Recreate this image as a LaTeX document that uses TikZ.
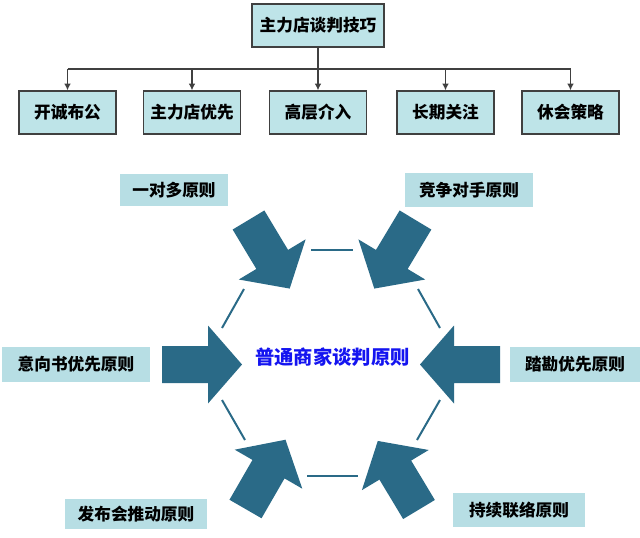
\documentclass[tikz,border=0pt]{standalone}
\usepackage{fontspec}
\setmainfont{Noto Sans CJK SC}
\usetikzlibrary{arrows.meta}
\definecolor{boxfill}{RGB}{190,228,232}
\definecolor{labfill}{RGB}{183,222,228}
\definecolor{arrowfill}{RGB}{42,106,135}
\definecolor{bluetext}{RGB}{20,20,240}
\tikzset{
  topbox/.style={draw=black!75,line width=1pt,fill=boxfill,minimum width=72.75pt,minimum height=32.25pt,inner sep=0pt,font=\bfseries\fontsize{12.5}{14}\selectfont},
  labbox/.style={fill=labfill,inner sep=0pt,font=\bfseries\fontsize{12.5}{14}\selectfont},
  hexline/.style={draw=arrowfill,line width=1.5pt},
  bigarrow/.pic={\fill[arrowfill] (0,-18.5) -- (46,-18.5) -- (46,-39) -- (80,0) -- (46,39) -- (46,18.5) -- (0,18.5) -- cycle;}
}
\begin{document}
\begin{tikzpicture}[x=0.75pt,y=0.75pt,yscale=-1]
\useasboundingbox (0,0) rectangle (640,537);

%Shape: Rectangle [top]
\node[topbox,minimum width=99pt] (top) at (318,25.5) {主力店谈判技巧};
%Shape: Rectangle [row]
\node[topbox] (b1) at (67.5,112.5) {开诚布公};
\node[topbox] (b2) at (192,112.5) {主力店优先};
\node[topbox] (b3) at (318,112.5) {高层介入};
\node[topbox] (b4) at (445.5,112.5) {长期关注};
\node[topbox] (b5) at (570.5,112.5) {休会策略};

%Straight Lines [tree]
\coordinate (bus) at (318,69);
\draw[black!75,line width=1.1pt,-{Latex[length=5pt,width=5pt]}] (top.south) -- (b3.north);
\draw[black!75,line width=1.1pt] (b1.north |- bus) -- (b5.north |- bus);
\foreach \b in {b1,b2,b4,b5}
  \draw[black!75,line width=1.1pt,-{Latex[length=5pt,width=5pt]}] (\b.north |- bus) -- (\b.north);

%Straight Lines [hexagon]
\draw[hexline] (311,250) -- (353,250);
\draw[hexline] (244,289) -- (222,328);
\draw[hexline] (418,289) -- (440,328);
\draw[hexline] (222,400) -- (245,440);
\draw[hexline] (440,400) -- (417,440);
\draw[hexline] (307,476) -- (358,476);

%Shape: Block Arrows
\pic[rotate=-59] at (248.5,220) {bigarrow};
\pic[rotate=-121] at (415.5,220) {bigarrow};
\pic at (162,364.5) {bigarrow};
\pic[rotate=180] at (500,364.5) {bigarrow};
\pic[rotate=60] at (245.5,509) {bigarrow};
\pic[rotate=121] at (419,509.5) {bigarrow};

% Text Node
\node[labbox,minimum width=81pt,minimum height=24pt] (l1) at (174,190) {一对多原则};
\node[labbox,minimum width=96pt,minimum height=25.5pt] (l2) at (469,190) {竞争对手原则};
\node[labbox,minimum width=111pt,minimum height=26.25pt] (l3) at (76,364.5) {意向书优先原则};
\node[labbox,minimum width=97.5pt,minimum height=26.25pt] (l4) at (575,364.5) {踏勘优先原则};
\node[labbox,minimum width=106.5pt,minimum height=22.5pt] (l5) at (136,514) {发布会推动原则};
\node[labbox,minimum width=99pt,minimum height=25.5pt] (l6) at (519,510) {持续联络原则};

% Text Node
\node[text=bluetext,font=\bfseries\fontsize{14.5}{16}\selectfont] (core) at (332.5,357) {普通商家谈判原则};

\end{tikzpicture}
\end{document}
